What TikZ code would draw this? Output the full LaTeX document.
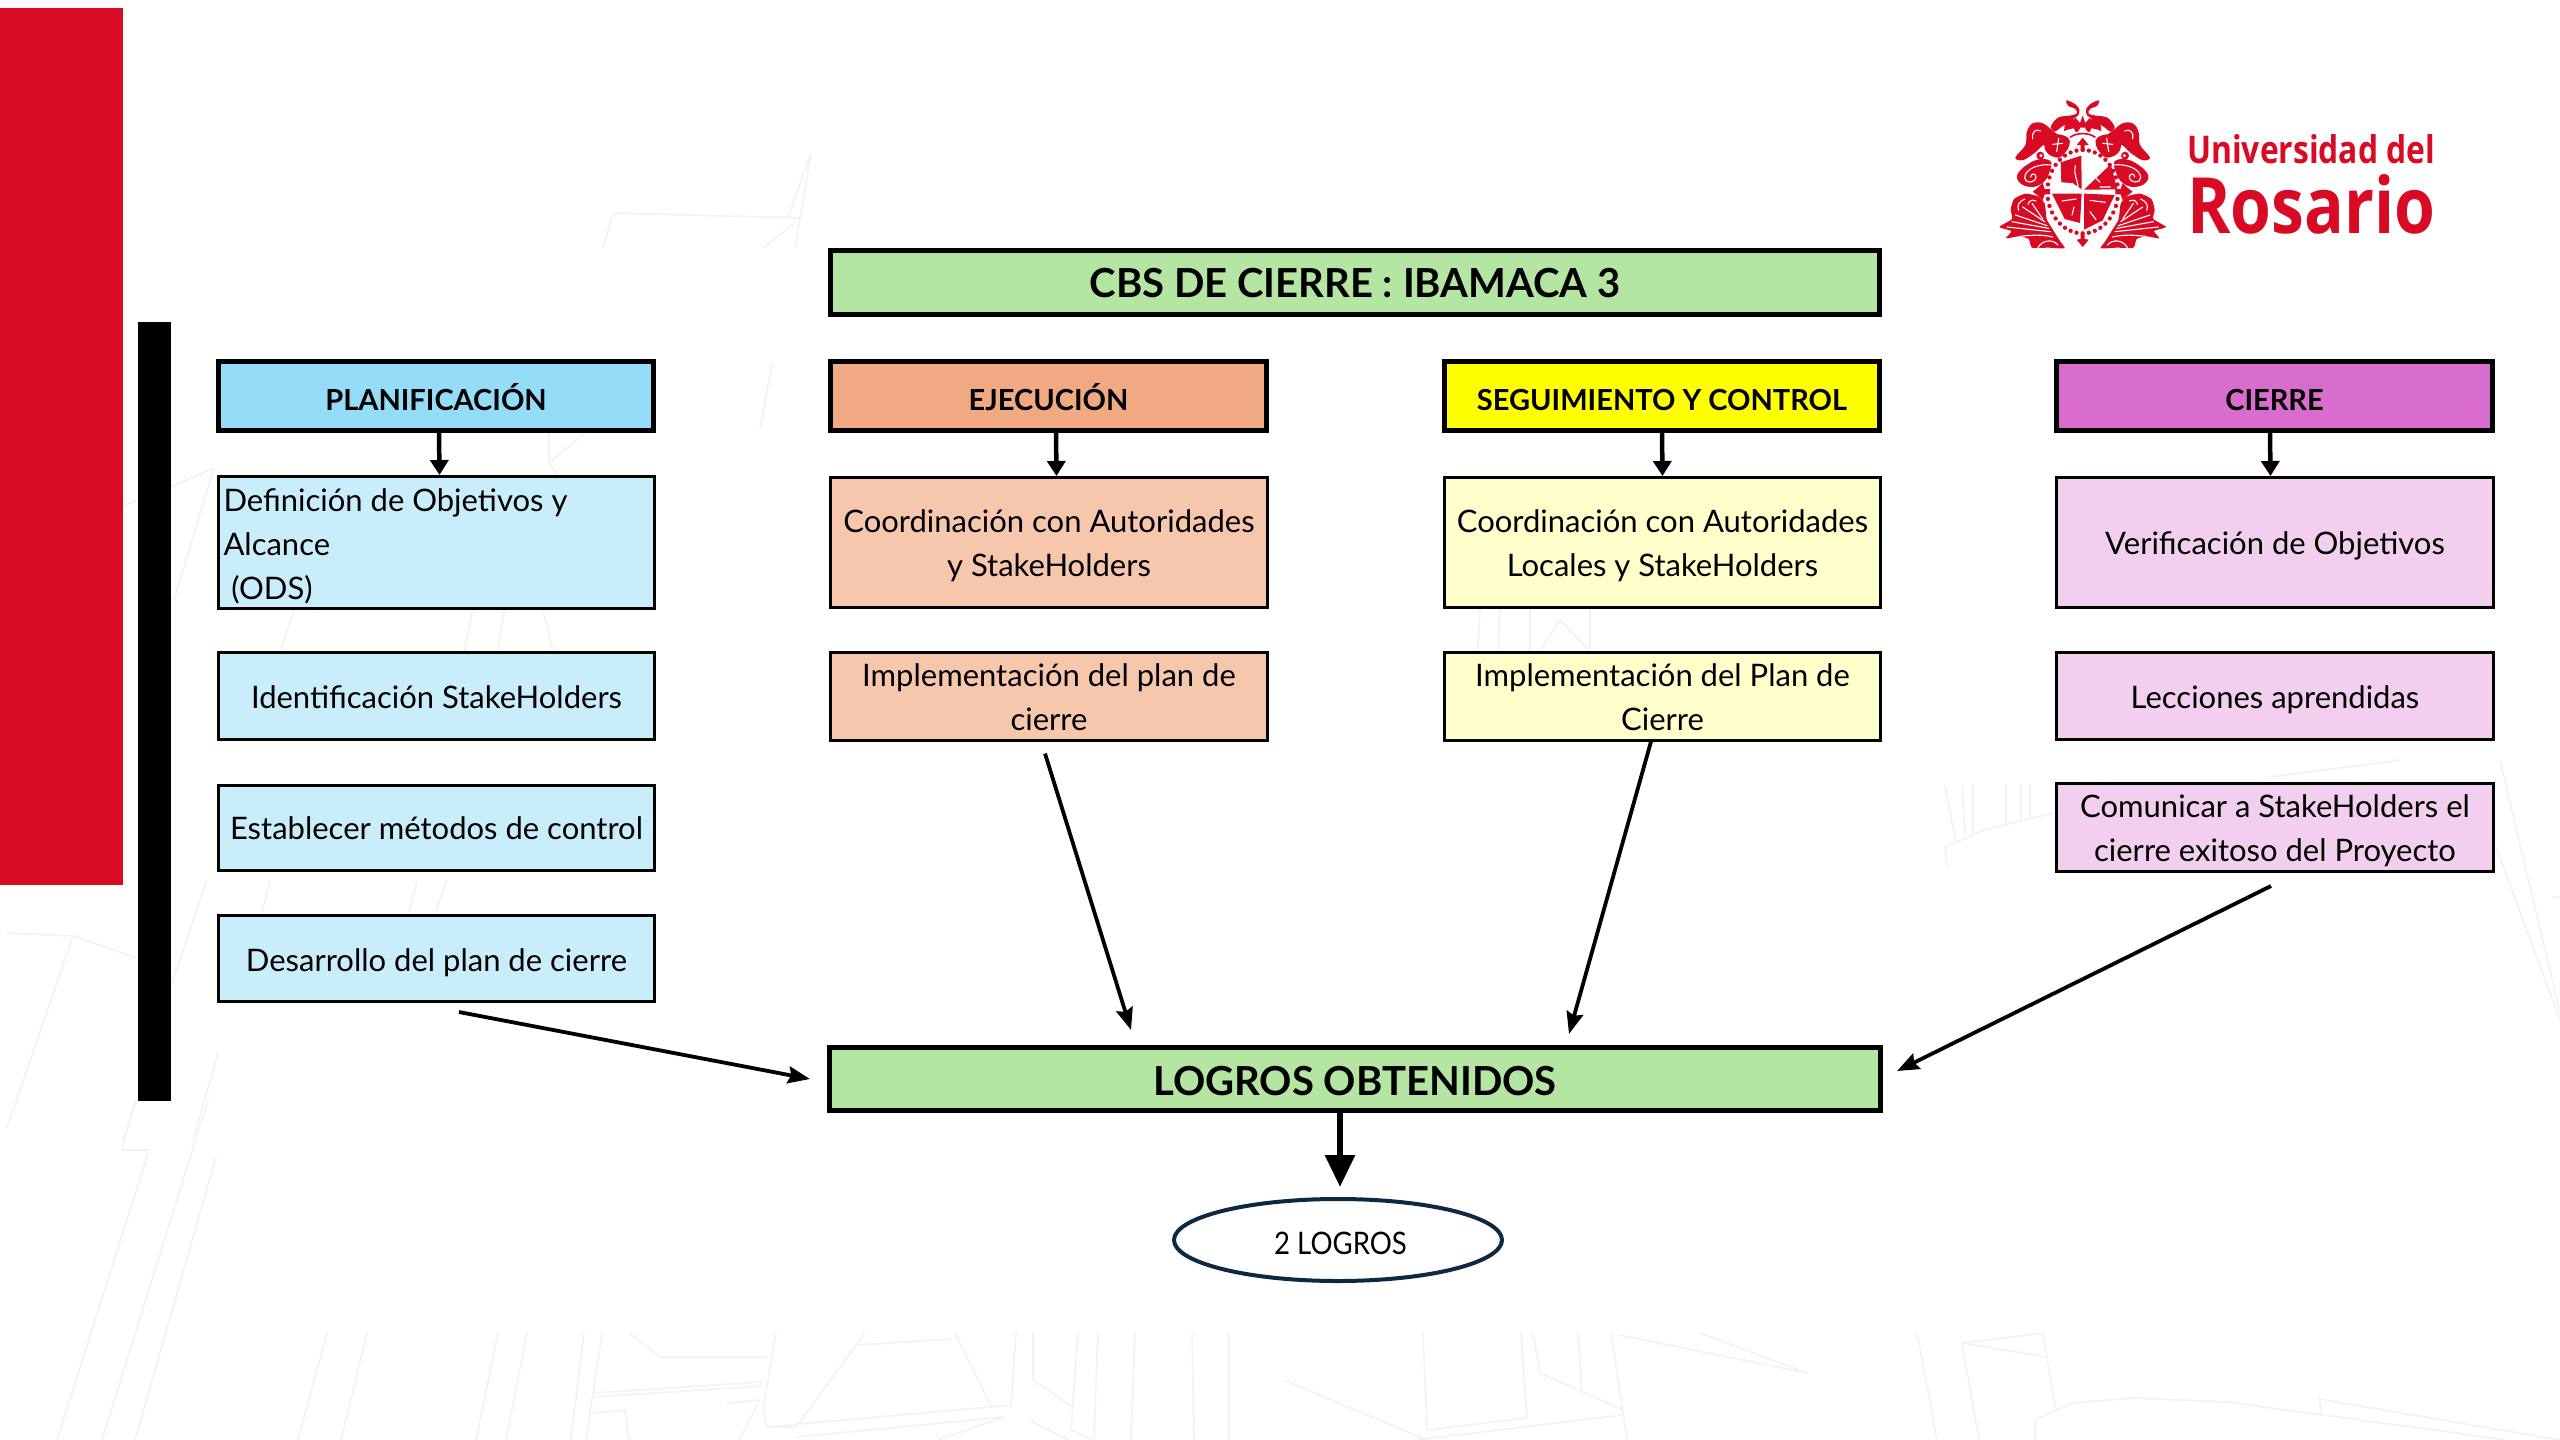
\documentclass[tikz,border=0pt]{standalone}
\usepackage{fontspec}
\usepackage{graphicx}
\usetikzlibrary{arrows.meta,shapes.geometric,calc}
\setmainfont{Lato}
\newfontfamily\logofont{Open Sans}
\definecolor{rojo}{HTML}{D80A24}
\definecolor{verde}{HTML}{B4E5A2}
\definecolor{azulA}{HTML}{94DCF8}
\definecolor{azulB}{HTML}{CAEDFB}
\definecolor{naranjaA}{HTML}{F1A983}
\definecolor{naranjaB}{HTML}{F6C6AD}
\definecolor{amarilloA}{HTML}{FFFF00}
\definecolor{amarilloB}{HTML}{FFFFCC}
\definecolor{moradoA}{HTML}{D86DCD}
\definecolor{moradoB}{HTML}{F2CEEF}
\definecolor{marino}{HTML}{0E2841}
\definecolor{fondo}{HTML}{F1F2F4}
\tikzset{
  titlebox/.style={draw=black,line width=4.7pt,rectangle,inner sep=0pt,font=\bfseries\fontsize{40}{44}\selectfont},
  headbox/.style={draw=black,line width=4.7pt,rectangle,inner sep=0pt,font=\bfseries\fontsize{29}{36}\selectfont},
  subbox/.style={draw=black,line width=3pt,rectangle,inner sep=0pt,font=\fontsize{31}{44}\selectfont},
  smallarr/.style={-{Triangle[length=15pt,width=18pt]},line width=4.5pt},
  diagarr/.style={-{Stealth[length=22pt,width=17pt,inset=3pt]},line width=3.8pt},
  bigarr/.style={-{Triangle[length=32pt,width=29pt]},line width=6pt},
  bgline/.style={draw=fondo,line width=1.6pt,line join=round},
  crestfill/.style={fill=rojo,draw=none},
  crestcut/.style={draw=white,line width=1.1pt,line cap=round}
}
\newcommand{\bx}[7]{\node[#6,minimum width={#4-#2},minimum height={#5-#3}] (#1) at ({(#2+#4)/2},{(#3+#5)/2}) {#7};}
% text set lower in its box, as the reference has it, without changing the box
\newcommand{\tl}[2][-3pt]{\raisebox{#1}[\height][\depth]{\begin{tabular}{@{}c@{}}#2\end{tabular}}}
\newcommand{\hd}[2][-14pt]{\raisebox{#1}[0pt][0pt]{#2}}
\newcommand{\crestside}{%
  \fill[crestfill] plot[smooth cycle,tension=.6] coordinates {(326,16)(322,32)(300,42)(296,56)(318,62)(352,68)(374,96)(362,110)(342,96)(322,86)(306,96)(298,112)(286,100)(292,82)(306,72)(292,62)(288,44)(300,28)};
  \fill[crestfill] plot[smooth cycle,tension=.6] coordinates {(372,104)(400,84)(430,86)(446,112)(450,150)(480,188)(456,195)(420,172)(396,150)(374,152)(348,128)};
  \draw[crestcut] (404,108) .. controls (420,100) and (432,112) .. (428,132);
  \draw[crestcut] (352,112) -- (328,100);
  \fill[crestfill] plot[smooth cycle,tension=.7] coordinates {(322,128)(360,118)(390,138)(386,172)(352,188)(330,172)(318,150)};
  \draw[crestcut] (338,145) -- (368,148) (350,130) -- (356,170) (326,122) -- (358,110);
  \fill[crestfill] plot[smooth cycle,tension=.7] coordinates {(375,198)(420,196)(470,232)(468,262)(432,276)(396,262)(378,232)};
  \draw[crestcut] (372,210) .. controls (408,205) and (452,222) .. (452,248) .. controls (452,266) and (420,266) .. (418,246) .. controls (418,234) and (434,234) .. (434,246);
  \fill[crestfill] (405,182) circle[radius=12];
  \fill[white] (403,182) circle[radius=5];
  \fill[crestfill] (376,282) -- (392,282) -- (398,264) -- (412,278) -- (428,290) -- (412,302) -- (398,316) -- (392,298) -- (376,298) -- cycle;
  \fill[crestfill] plot[smooth cycle,tension=.35] coordinates {(392,326)(412,304)(450,296)(484,312)(494,344)(490,372)(528,396)(492,408)(508,430)(470,424)(440,432)(430,458)(380,458)(332,460)(345,440)(370,400)(386,372)};
  \draw[crestcut] (375,410) -- (505,396) (380,400) -- (490,380);
  \draw[crestcut] (385,392) -- (480,360) (392,380) -- (458,336);
  \draw[crestcut] (398,372) -- (430,325);
  \draw[crestcut] (368,426) .. controls (400,418) and (430,420) .. (466,424);
  \draw[crestcut] (452,312) .. controls (470,320) and (476,332) .. (470,346);
  \draw[crestcut] (418,318) .. controls (430,312) and (440,318) .. (442,328);
  \draw[crestcut] (352,450) .. controls (370,430) and (400,436) .. (412,458);
}
\begin{document}
\begin{tikzpicture}[x=1pt,y=-1pt]
\useasboundingbox (0,0) rectangle (2560,1440);
% faint background sketch
\draw[bgline] (208,1100)--(102,1440) (135,1100)--(122,1150)--(149,1150)--(57,1440) (216,1157)--(135,1440);
\draw[bgline] (327,1333)--(298,1440) (367,1333)--(341,1440) (498,1333)--(476,1440) (527,1333)--(506,1440) (584,1333)--(571,1440) (602,1333)--(586,1440);
\draw[bgline] (776,1333)--(763,1410)--(767,1427)--(796,1427)--(865,1333) (955,1333)--(992,1408) (1016,1333)--(1011,1405) (592,1393)--(763,1382) (592,1397)--(763,1386);
\draw[bgline] (629,1333)--(661,1357)--(767,1357) (859,1345)--(951,1339) (1033,1333)--(1033,1380)--(1073,1407) (1078,1333)--(1071,1430)--(1094,1440) (1098,1333)--(1094,1440) (1135,1333)--(1131,1440) (1192,1333)--(1194,1440) (1229,1333)--(1229,1440);
\draw[bgline] (767,1427)--(1012,1405) (796,1437)--(1004,1417)--(938,1440) (1029,1420)--(1069,1440) (727,1403)--(760,1400)--(739,1440) (592,1413)--(625,1410)--(629,1440);
\draw[bgline] (1423,1333)--(1427,1430)--(1527,1418)--(1521,1333) (1284,1380)--(1427,1440) (1533,1333)--(1540,1373)--(1623,1410) (1578,1333)--(1582,1393) (1611,1333)--(1627,1440) (1619,1335)--(1807,1373)--(1700,1333) (1623,1415)--(1415,1440);
\draw[bgline] (1917,1333)--(1937,1440) (1962,1343)--(1979,1440) (1962,1343)--(2043,1333)--(2056,1410) (1962,1343)--(2047,1357) (2035,1440)--(2035,1420)--(2072,1403)--(2133,1398)--(2227,1402)--(2456,1433)--(2505,1440) (2319,1399)--(2322,1415) (2319,1399)--(2560,1440);
\draw[bgline] (811,153)--(788,217)--(800,218)--(795,248) (811,153)--(800,218) (613,213)--(800,218) (613,213)--(603,248) (795,223)--(763,248) (772,363)--(760,430);
\draw[bgline] (0,633) .. controls (40,520) and (100,520) .. (214,468) (214,468)--(174,600) (295,607)--(281,650) (473,607)--(464,653) (505,607)--(498,650) (542,607)--(553,650) (585,433)--(549,463)--(558,475) (549,433)--(549,463);
\draw[bgline] (1480,609)--(1478,651) (1500,609)--(1498,651) (1530,609)--(1530,651) (1590,609)--(1590,651) (1540,651)--(1560,620)--(1590,651);
\draw[bgline] (1945,785)--(1956,843) (1962,785)--(1965,835) (1973,785)--(1973,837) (2006,785)--(2006,823) (2021,785)--(2021,820) (2030,785)--(2030,818) (1947,868)--(1945,847)--(1984,830)--(2053,813) (2270,777)--(2400,760) (2500,760)--(2560,1013) (2496,847)--(2560,1020) (2552,897)--(2560,897);
\draw[bgline] (7,933)--(73,936)--(7,1128) (73,936)--(137,958) (207,880)--(172,983) (270,880)--(262,913) (417,880)--(409,913) (447,880)--(435,913) (218,1053)--(193,1140) (137,1100)--(123,1140);
% bars
\fill[rojo] (0,8) rectangle (123,885);
\fill[black] (138,322) rectangle (171,1101);
% boxes
\bx{cbs}{830.3}{250.3}{1879.7}{314.7}{titlebox,fill=verde}{\hd[-15pt]{CBS DE CIERRE : IBAMACA 3}}
\bx{hp}{218.3}{361.3}{653.7}{430.7}{headbox,fill=azulA}{\hd{PLANIFICACIÓN}}
\bx{he}{830.3}{361.3}{1266.7}{430.7}{headbox,fill=naranjaA}{\hd{EJECUCIÓN}}
\bx{hs}{1444.3}{361.3}{1879.7}{430.7}{headbox,fill=amarilloA}{\hd{SEGUIMIENTO Y CONTROL}}
\bx{hc}{2056.3}{361.3}{2492.7}{430.7}{headbox,fill=moradoA}{\hd{CIERRE}}
\bx{p1}{218.5}{477.5}{654.5}{607.5}{subbox,fill=azulB}{\makebox[426pt][l]{\raisebox{-4pt}[\height][\depth]{\begin{tabular}{@{}l@{}}Definición de Objetivos y\\Alcance\\\ (ODS)\end{tabular}}}}
\bx{p2}{218.5}{652.5}{654.5}{739.5}{subbox,fill=azulB}{\tl[-4pt]{Identificación StakeHolders}}
\bx{p3}{218.5}{785.5}{654.5}{870.5}{subbox,fill=azulB}{\tl{Establecer métodos de control}}
\bx{p4}{218.5}{915.5}{654.5}{1001.5}{subbox,fill=azulB}{\tl[-4pt]{Desarrollo del plan de cierre}}
\bx{e1}{830.5}{477.5}{1267.5}{607.5}{subbox,fill=naranjaB}{\tl{Coordinación con Autoridades\\y StakeHolders}}
\bx{e2}{830.5}{652.5}{1267.5}{739.5}{subbox,fill=naranjaB}{\tl[-4pt]{Implementación del plan de\\cierre}}
\bx{s1}{1444.5}{477.5}{1880.5}{607.5}{subbox,fill=amarilloB}{\tl{Coordinación con Autoridades\\Locales y StakeHolders}}
\bx{s2}{1444.5}{652.5}{1880.5}{739.5}{subbox,fill=amarilloB}{\tl[-4pt]{Implementación del Plan de\\Cierre}}
\bx{c1}{2056.5}{477.5}{2493.5}{607.5}{subbox,fill=moradoB}{\tl{Verificación de Objetivos}}
\bx{c2}{2056.5}{652.5}{2493.5}{739.5}{subbox,fill=moradoB}{\tl[-4pt]{Lecciones aprendidas}}
\bx{c3}{2056.5}{785.5}{2493.5}{869.5}{subbox,fill=moradoB}{\tl{Comunicar a StakeHolders el\\cierre exitoso del Proyecto}}
\bx{lg}{829.3}{1047.3}{1880.7}{1110.7}{titlebox,fill=verde}{\hd[-16pt]{LOGROS OBTENIDOS}}
\node[ellipse,draw=marino,line width=4pt,fill=white,inner sep=0pt,minimum width=328pt,minimum height=82pt,font=\fontsize{31}{36}\selectfont] (ov) at (1338,1240) {\raisebox{-3pt}[\height][\depth]{\hspace{5pt}\scalebox{0.89}[1]{2 LOGROS}}};
% connectors
\draw[smallarr] ([shift={(3,0)}]hp.south) -- ([shift={(3,0)}]p1.north);
\draw[smallarr] ([shift={(7.5,0)}]he.south) -- ([shift={(7.5,0)}]e1.north);
\draw[smallarr] (hs.south) -- (s1.north);
\draw[smallarr] ([shift={(-4.5,0)}]hc.south) -- ([shift={(-4.5,0)}]c1.north);
\draw[diagarr] ([shift={(-4,12)}]e2.south) -- ([shift={(-224,-15)}]lg.north);
\draw[diagarr] ([shift={(-11.5,0)}]s2.south) -- ([shift={(214,-11)}]lg.north);
\draw[diagarr] ([shift={(-4,13)}]c3.south) -- ([shift={(14,-8)}]lg.east);
\draw[diagarr] ([shift={(22.5,9)}]p4.south) -- ([shift={(-17,0)}]lg.west);
\draw[bigarr] ([shift={(-15,0)}]lg.south) -- ([shift={(2,-10)}]ov.north);
% logo: crest
\begin{scope}[shift={(1990,95)},scale=1/3]
  \crestside
  \begin{scope}[xshift=556,xscale=-1]
    \crestside
  \end{scope}
  \fill[crestfill] (222,108) -- (226,76) -- (244,90) -- (256,68) -- (270,84) -- (278,62) -- (286,84) -- (300,68) -- (312,90) -- (330,76) -- (334,108) .. controls (300,94) and (256,94) .. cycle;
  \draw[rojo,line width=1.6pt] (240,127) .. controls (260,112) and (296,112) .. (316,127);
  \foreach \a in {0,10,...,350}{\fill[crestfill] ({278+106*cos(\a)},{290+125*sin(\a)}) circle[radius=6.5];}
  \fill[crestfill] (278,128) -- (296,150) -- (284,150) -- (284,168) -- (272,168) -- (272,150) -- (260,150) -- cycle;
  \fill[crestfill] (278,456) -- (296,434) -- (284,432) -- (284,415) -- (272,415) -- (272,432) -- (260,434) -- cycle;
  \fill[crestfill] (212,202) -- (274,182) -- (275,283) -- (248,264) -- (214,262) -- cycle;
  \fill[crestfill] (362,208) -- (382,283) -- (282,284) -- cycle;
  \fill[crestfill] (186,296) -- (275,296) -- (270,384) -- (224,372) -- cycle;
  \fill[crestfill] (282,296) -- (374,300) -- (338,376) -- (282,404) -- cycle;
  \draw[crestcut] (256,212) .. controls (250,240) and (262,250) .. (264,276);
  \draw[crestcut] (200,278) -- (240,274) (330,276) -- (362,276) (216,318) -- (258,312) (300,316) -- (346,322) (306,236) -- (330,262) (300,350) -- (318,374) (252,336) -- (246,360);
\end{scope}
% logo: wordmark
\node[anchor=base west,text=rojo,inner sep=0pt] (uni) at (2187,163) {\resizebox{248pt}{29pt}{\logofont\bfseries Universidad del}};
\node[anchor=base west,text=rojo,inner sep=0pt] (ros) at (2187,233) {\resizebox{248pt}{59pt}{\logofont\bfseries Rosario}};
\end{tikzpicture}
\end{document}
